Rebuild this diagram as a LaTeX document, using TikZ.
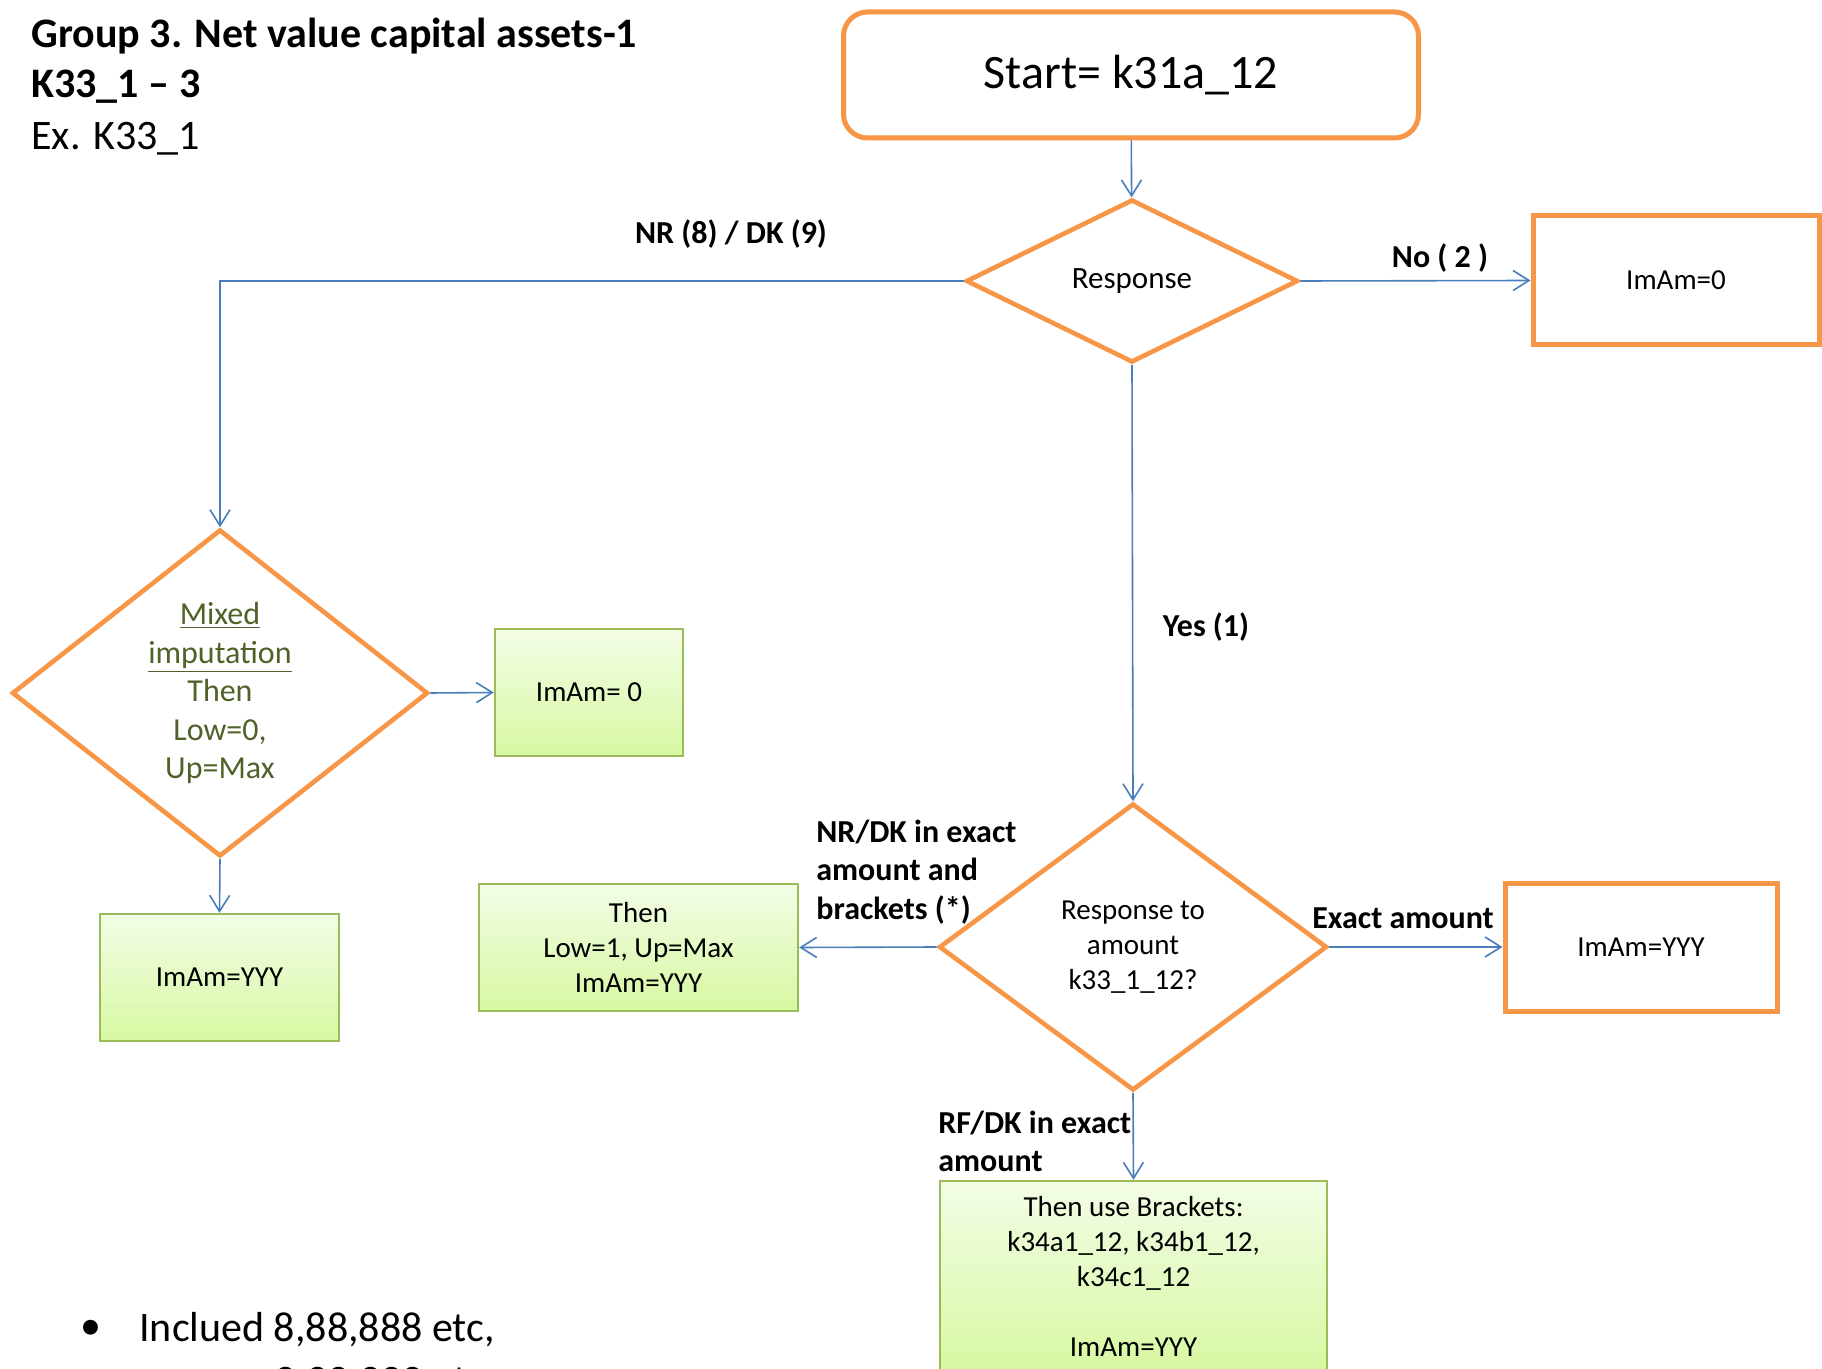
\documentclass[tikz,border=0pt]{standalone}
\usepackage{fontspec}
\setmainfont{Carlito}
\usetikzlibrary{shapes.geometric,arrows.meta}
\definecolor{orng}{HTML}{F79646}
\definecolor{connblue}{HTML}{4A7EBB}
\definecolor{gbord}{HTML}{9BBB59}
\definecolor{gtop}{RGB}{243,253,230}
\definecolor{gbot}{RGB}{215,248,162}
\definecolor{olivetext}{HTML}{4F6228}
\begin{document}
\begin{tikzpicture}[x=0.5pt,y=-0.5pt,
  orangebox/.style={rectangle, draw=orng, line width=2.5pt, fill=white, inner sep=0pt, align=center, font=\fontsize{14.5}{17.5}\selectfont},
  decision/.style={diamond, draw=orng, line width=2.3pt, fill=white, inner sep=0pt, align=center},
  greenbox/.style={rectangle, draw=gbord, line width=1.2pt, top color=gtop, bottom color=gbot, inner sep=0pt, align=center, font=\fontsize{14.5}{17.5}\selectfont},
  connector/.style={draw=connblue, line width=0.8pt, -{Straight Barb[length=8pt,width=10pt]}},
  lbl/.style={font=\bfseries\fontsize{16}{19.25}\selectfont, inner sep=0pt, align=left},
  titletext/.style={font=\fontsize{21}{25.5}\selectfont, inner sep=0pt, anchor=west}]
\clip (0,0) rectangle (1822,1369);
\fill[white] (0,0) rectangle (1822,1369);

% title
\node[titletext] (t1) at (31,36) {\bfseries Group 3. Net value capital assets-1};
\node[titletext] (t2) at (31,87) {\bfseries K33\_1 -- 3};
\node[titletext] (t3) at (31,139) {Ex. K33\_1};

% nodes
\node[orangebox, rounded corners=12pt, minimum width=287.5pt, minimum height=63pt, font=\fontsize{24}{29}\selectfont] (start) at (1131,75) {Start= k31a\_12};
\node[decision, minimum width=166pt, minimum height=81.5pt, font=\fontsize{15.5}{18.5}\selectfont] (resp) at (1132,281) {\raisebox{-1pt}{Response}};
\node[orangebox, minimum width=143pt, minimum height=64.5pt] (nobox) at (1676,280.5) {ImAm=0};
\node[decision, minimum width=208pt, minimum height=163.5pt, font=\fontsize{16}{19.25}\selectfont, text=olivetext] (mixed) at (220,693) {\underline{Mixed}\\\underline{imputation}\\Then\\Low=0,\\Up=Max};
\node[greenbox, minimum width=94pt, minimum height=63.5pt] (gzero) at (589,692.5) {ImAm= 0};
\node[greenbox, minimum width=119.5pt, minimum height=63.5pt] (gleft) at (219.5,977.5) {ImAm=YYY};
\node[decision, minimum width=194pt, minimum height=143.5pt, font=\fontsize{14.5}{17.5}\selectfont] (amt) at (1133,947) {Response to\\amount\\k33\_1\_12?};
\node[greenbox, minimum width=159.5pt, minimum height=63.5pt] (gthen) at (638.5,947.5) {Then\\Low=1, Up=Max\\ImAm=YYY};
\node[orangebox, minimum width=136pt, minimum height=64pt] (exact) at (1641,947) {ImAm=YYY};
\node[greenbox, minimum width=193.5pt, minimum height=95pt] (gbottom) at (1133.5,1276) {Then use Brackets:\\k34a1\_12, k34b1\_12,\\k34c1\_12\\[17.5pt]ImAm=YYY};

% connectors
\draw[connector] (start) -- (resp);
\draw[connector] (resp.east) -- (nobox.west);
\draw[connector] (resp.west) -| (mixed.north);
\draw[connector] (mixed.east) -- (gzero.west);
\draw[connector] (mixed.south) -- (gleft.north);
\draw[connector] (resp.south) -- (amt.north);
\draw[connector] (amt.west) -- (gthen.east);
\draw[connector] (amt.east) -- (exact.west);
\draw[connector] (amt.south) -- (gbottom.north);

% labels
\node[lbl] (lnr) at (731,234) {NR (8) / DK (9)};
\node[lbl] (lno) at (1440,258) {No ( 2 )};
\node[lbl] (lyes) at (1206,627) {Yes (1)};
\node[lbl, anchor=west] (lnrdk) at (816,872) {NR/DK in exact\\amount and\\brackets (*)};
\node[lbl] (lexact) at (1403,918) {Exact amount};
\node[lbl, anchor=west] (lrf) at (938,1141.5) {RF/DK in exact\\amount};

% bullet
\node[titletext] (bul) at (80,1330) {•};
\node[titletext] (b1) at (139,1330) {Inclued 8,88,888 etc,};
\node[titletext] (b2) at (274,1384) {9,99,999 etc};
\end{tikzpicture}
\end{document}
